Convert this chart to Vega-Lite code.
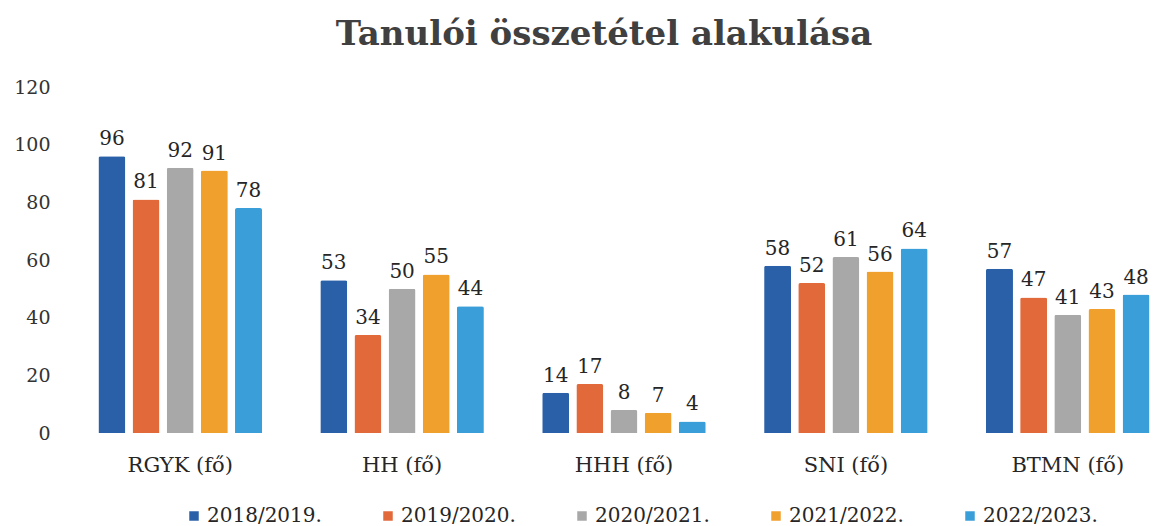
{
  "$schema": "https://vega.github.io/schema/vega-lite/v6.json",
  "autosize": {"type": "none"},
  "padding": {"left": 60, "top": 87, "right": 5, "bottom": 93},
  "width": 1088,
  "height": 346,
  "background": "white",
  "config": {"view": {"stroke": null}},
  "title": {
    "text": "Tanulói összetétel alakulása",
    "font": "DejaVu Serif",
    "fontSize": 34,
    "fontWeight": "bold",
    "color": "#404040",
    "anchor": "middle",
    "offset": 26
  },
  "data": {
    "values": [
      {"cat": "RGYK (fő)", "year": "2018/2019.", "value": 96},
      {"cat": "RGYK (fő)", "year": "2019/2020.", "value": 81},
      {"cat": "RGYK (fő)", "year": "2020/2021.", "value": 92},
      {"cat": "RGYK (fő)", "year": "2021/2022.", "value": 91},
      {"cat": "RGYK (fő)", "year": "2022/2023.", "value": 78},
      {"cat": "HH (fő)", "year": "2018/2019.", "value": 53},
      {"cat": "HH (fő)", "year": "2019/2020.", "value": 34},
      {"cat": "HH (fő)", "year": "2020/2021.", "value": 50},
      {"cat": "HH (fő)", "year": "2021/2022.", "value": 55},
      {"cat": "HH (fő)", "year": "2022/2023.", "value": 44},
      {"cat": "HHH (fő)", "year": "2018/2019.", "value": 14},
      {"cat": "HHH (fő)", "year": "2019/2020.", "value": 17},
      {"cat": "HHH (fő)", "year": "2020/2021.", "value": 8},
      {"cat": "HHH (fő)", "year": "2021/2022.", "value": 7},
      {"cat": "HHH (fő)", "year": "2022/2023.", "value": 4},
      {"cat": "SNI (fő)", "year": "2018/2019.", "value": 58},
      {"cat": "SNI (fő)", "year": "2019/2020.", "value": 52},
      {"cat": "SNI (fő)", "year": "2020/2021.", "value": 61},
      {"cat": "SNI (fő)", "year": "2021/2022.", "value": 56},
      {"cat": "SNI (fő)", "year": "2022/2023.", "value": 64},
      {"cat": "BTMN (fő)", "year": "2018/2019.", "value": 57},
      {"cat": "BTMN (fő)", "year": "2019/2020.", "value": 47},
      {"cat": "BTMN (fő)", "year": "2020/2021.", "value": 41},
      {"cat": "BTMN (fő)", "year": "2021/2022.", "value": 43},
      {"cat": "BTMN (fő)", "year": "2022/2023.", "value": 48}
    ]
  },
  "encoding": {
    "x": {
      "field": "cat",
      "type": "nominal",
      "sort": null,
      "scale": {"range": [35, 1093], "paddingInner": 0.232, "paddingOuter": 0},
      "axis": {
        "title": null,
        "domain": false,
        "ticks": false,
        "labelAngle": 0,
        "labelFont": "DejaVu Serif",
        "labelFontSize": 21,
        "labelColor": "#262626",
        "labelPadding": 21
      }
    },
    "xOffset": {
      "field": "year",
      "type": "nominal",
      "sort": null,
      "scale": {"paddingInner": 0.21, "paddingOuter": 0.1}
    },
    "y": {
      "field": "value",
      "type": "quantitative",
      "scale": {"domain": [0, 120]},
      "axis": {
        "title": null,
        "values": [0, 20, 40, 60, 80, 100, 120],
        "domain": false,
        "ticks": false,
        "grid": false,
        "labelFont": "DejaVu Serif",
        "labelFontSize": 19,
        "labelColor": "#333333",
        "labelPadding": 10
      }
    }
  },
  "layer": [
    {
      "mark": {"type": "bar", "cornerRadiusTopLeft": 2, "cornerRadiusTopRight": 2},
      "encoding": {
        "color": {
          "field": "year",
          "type": "nominal",
          "sort": null,
          "scale": {
            "domain": ["2018/2019.", "2019/2020.", "2020/2021.", "2021/2022.", "2022/2023."],
            "range": ["#2A60A8", "#E2693A", "#A8A8A8", "#F0A02C", "#3A9ED8"]
          },
          "legend": {
            "title": null,
            "orient": "none",
            "direction": "horizontal",
            "legendX": 124,
            "legendY": 419,
            "symbolType": "square",
            "symbolSize": 90,
            "symbolOpacity": 1,
            "symbolStrokeWidth": 0,
            "labelFont": "DejaVu Serif",
            "labelFontSize": 20,
            "labelColor": "#262626",
            "labelOffset": 3,
            "columnPadding": 56
          }
        }
      }
    },
    {
      "mark": {
        "type": "text",
        "baseline": "alphabetic",
        "dy": -11,
        "font": "DejaVu Serif",
        "fontSize": 20,
        "color": "#262626"
      },
      "encoding": {
        "text": {"field": "value", "type": "quantitative"}
      }
    }
  ]
}
